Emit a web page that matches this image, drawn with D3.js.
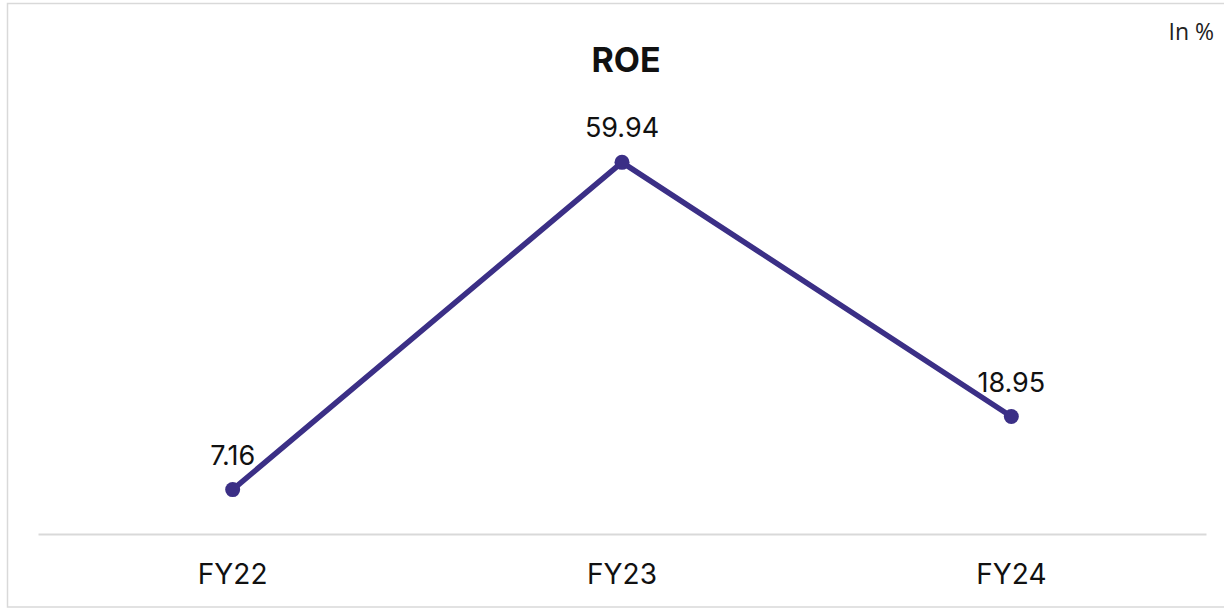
<!DOCTYPE html>
<html>
<head>
<meta charset="utf-8">
<script src="https://cdn.jsdelivr.net/npm/d3@7"></script>
<style>
  html, body { margin: 0; padding: 0; background: #fff; }
  svg { display: block; }
</style>
</head>
<body>
<svg id="chart" width="1224" height="608"></svg>
<script>
// ROE by fiscal year (in %)
const categories = ["FY22", "FY23", "FY24"];
const roeValues = [7.16, 59.94, 18.95];

const W = 1224, H = 608;
const margin = { top: 100, right: 18, bottom: 74, left: 38 };
const lineColor = "#3b2f86";
const font = "Inter, 'Noto Sans', sans-serif";

const svg = d3.select("#chart");

// outer frame
svg.append("rect")
  .attr("x", 7.5).attr("y", 3.5)
  .attr("width", W - 6).attr("height", H - 4.5)
  .attr("fill", "none").attr("stroke", "#d9d9d9").attr("stroke-width", 1.5);

const x = d3.scaleBand()
  .domain(categories)
  .range([margin.left, W - margin.right])
  .paddingInner(0).paddingOuter(0);

const y = d3.scaleLinear()
  .domain([0, 70])
  .range([H - margin.bottom, margin.top]);

const data = categories.map((c, i) => ({ cat: c, v: roeValues[i] }));
const cx = d => x(d.cat) + x.bandwidth() / 2;

// category axis
const xAxis = svg.append("g")
  .attr("transform", `translate(0,${y(0)})`)
  .call(d3.axisBottom(x).tickSize(0).tickPadding(30));
xAxis.select(".domain").attr("stroke", "#d9d9d9").attr("stroke-width", 2);
xAxis.selectAll("text")
  .attr("font-family", font).attr("font-size", 28).attr("fill", "#111");

// title
svg.append("text")
  .attr("x", 626).attr("y", 72)
  .attr("text-anchor", "middle")
  .attr("font-family", font).attr("font-weight", 700).attr("font-size", 34)
  .attr("fill", "#111")
  .text("ROE");

// unit note
svg.append("text")
  .attr("x", 1214).attr("y", 40)
  .attr("text-anchor", "end")
  .attr("font-family", "'Open Sans', sans-serif").attr("font-size", 23)
  .attr("fill", "#222")
  .text("In %");

// line
svg.append("path")
  .datum(data)
  .attr("fill", "none")
  .attr("stroke", lineColor)
  .attr("stroke-width", 5.5)
  .attr("stroke-linejoin", "round")
  .attr("d", d3.line().x(cx).y(d => y(d.v)));

// markers
svg.selectAll("circle.pt")
  .data(data)
  .join("circle")
  .attr("class", "pt")
  .attr("cx", cx).attr("cy", d => y(d.v))
  .attr("r", 7.5)
  .attr("fill", lineColor);

// value labels
svg.selectAll("text.val")
  .data(data)
  .join("text")
  .attr("class", "val")
  .attr("x", cx).attr("y", d => y(d.v) - 25)
  .attr("text-anchor", "middle")
  .attr("font-family", font).attr("font-size", 27)
  .attr("fill", "#111")
  .text(d => d.v.toFixed(2));
</script>
</body>
</html>
